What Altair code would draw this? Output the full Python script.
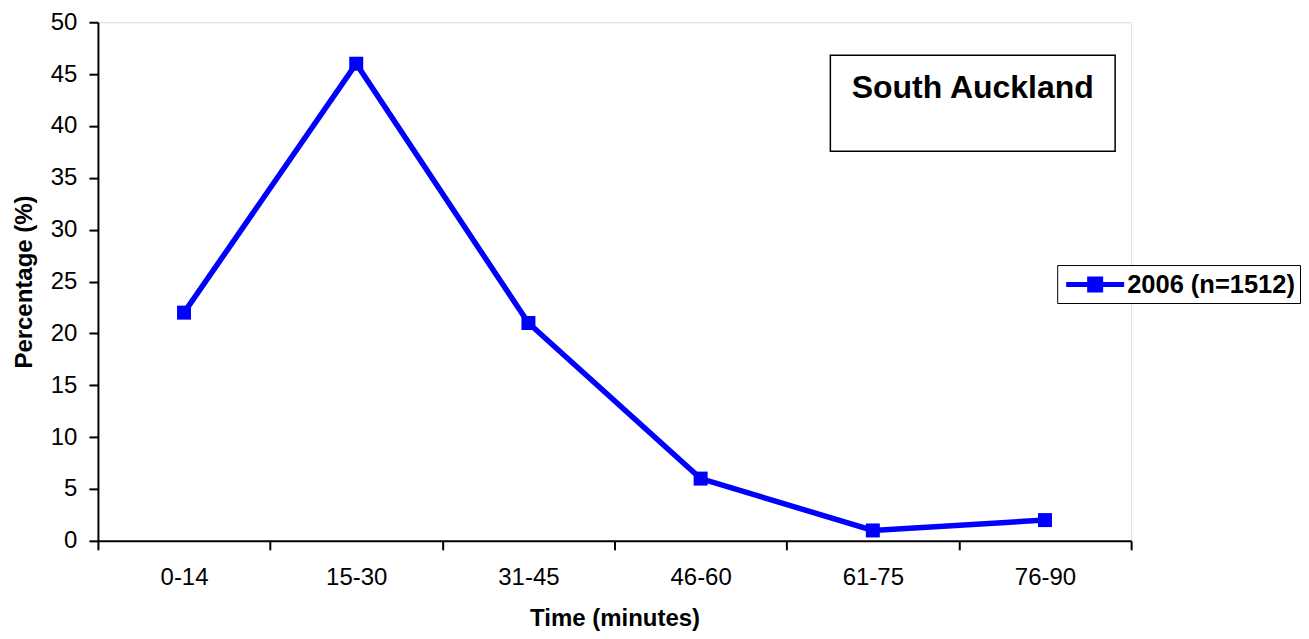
import altair as alt
import pandas as pd

categories = ["0-14", "15-30", "31-45", "46-60", "61-75", "76-90"]
values = [22, 46, 21, 6, 1, 2]
series_name = "2006 (n=1512)"
box_title = ["South Auckland"]
y_ticks = [0, 5, 10, 15, 20, 25, 30, 35, 40, 45, 50]

df = pd.DataFrame({"Time": categories, "Pct": values, "Series": [series_name] * len(categories)})
title_df = pd.DataFrame({"t": box_title})

FONT = "Liberation Sans"
BLUE = "#0000FF"

x_enc = alt.X(
    "Time:N",
    sort=categories,
    bandPosition=0.5,
    scale=alt.Scale(type="band", paddingInner=0, paddingOuter=0),
    axis=alt.Axis(
        title="Time (minutes)",
        tickBand="extent",
        labelAngle=0,
        labelFontSize=24,
        labelFont=FONT,
        labelColor="black",
        labelPadding=16,
        tickSize=9,
        tickColor="black",
        tickWidth=2,
        domainColor="black",
        domainWidth=2,
        titleFont=FONT,
        titleFontSize=24,
        titleFontWeight="bold",
        titleColor="black",
        titlePadding=17,
        grid=False,
    ),
)
y_enc = alt.Y(
    "Pct:Q",
    scale=alt.Scale(domain=[0, 50], nice=False, zero=True),
    axis=alt.Axis(
        title="Percentage (%)",
        values=y_ticks,
        labelFontSize=24,
        labelFont=FONT,
        labelColor="black",
        labelPadding=12,
        tickSize=9,
        tickColor="black",
        tickWidth=2,
        domainColor="black",
        domainWidth=2,
        titleFont=FONT,
        titleFontSize=24,
        titleFontWeight="bold",
        titleColor="black",
        titlePadding=14,
        grid=False,
    ),
)

line = alt.Chart(df).mark_line(color=BLUE, strokeWidth=5.5).encode(x=x_enc, y=y_enc)

legend_path = "M-0.724,-0.172H3.276V0.172H-0.724Z M0.724,-0.552H1.828V0.552H0.724Z"

points = alt.Chart(df).mark_point(shape="square", filled=True, size=196, opacity=1).encode(
    x=x_enc,
    y=y_enc,
    color=alt.Color(
        "Series:N",
        scale=alt.Scale(range=[BLUE]),
        legend=alt.Legend(
            title=None,
            orient="none",
            legendX=960,
            legendY=243,
            symbolType=legend_path,
            symbolSize=841,
            symbolStrokeWidth=0,
            symbolFillColor=BLUE,
            labelFont=FONT,
            labelFontSize=25.5,
            labelFontWeight="bold",
            labelColor="black",
            labelOffset=36,
            labelLimit=400,
            padding=5,
            strokeColor="black",
            fillColor="white",
        ),
    ),
)

box = alt.Chart(title_df).mark_rect(fill="white", stroke="black", strokeWidth=1.5).encode(
    x=alt.value(733), x2=alt.value(1018), y=alt.value(33), y2=alt.value(129)
)
box_text = alt.Chart(title_df).mark_text(
    font=FONT, fontSize=32, fontWeight="bold", color="black", align="center", baseline="alphabetic"
).encode(x=alt.value(875.5), y=alt.value(76), text="t:N")

chart = alt.layer(box, box_text, line, points).properties(
    width=1034,
    height=519,
    autosize=alt.AutoSizeParams(type="none"),
    padding={"left": 90, "top": 14, "right": 170, "bottom": 96},
).configure_view(stroke=None).configure(background="white")

chart.save("out.html", embed_options={"renderer": "svg", "actions": False})
